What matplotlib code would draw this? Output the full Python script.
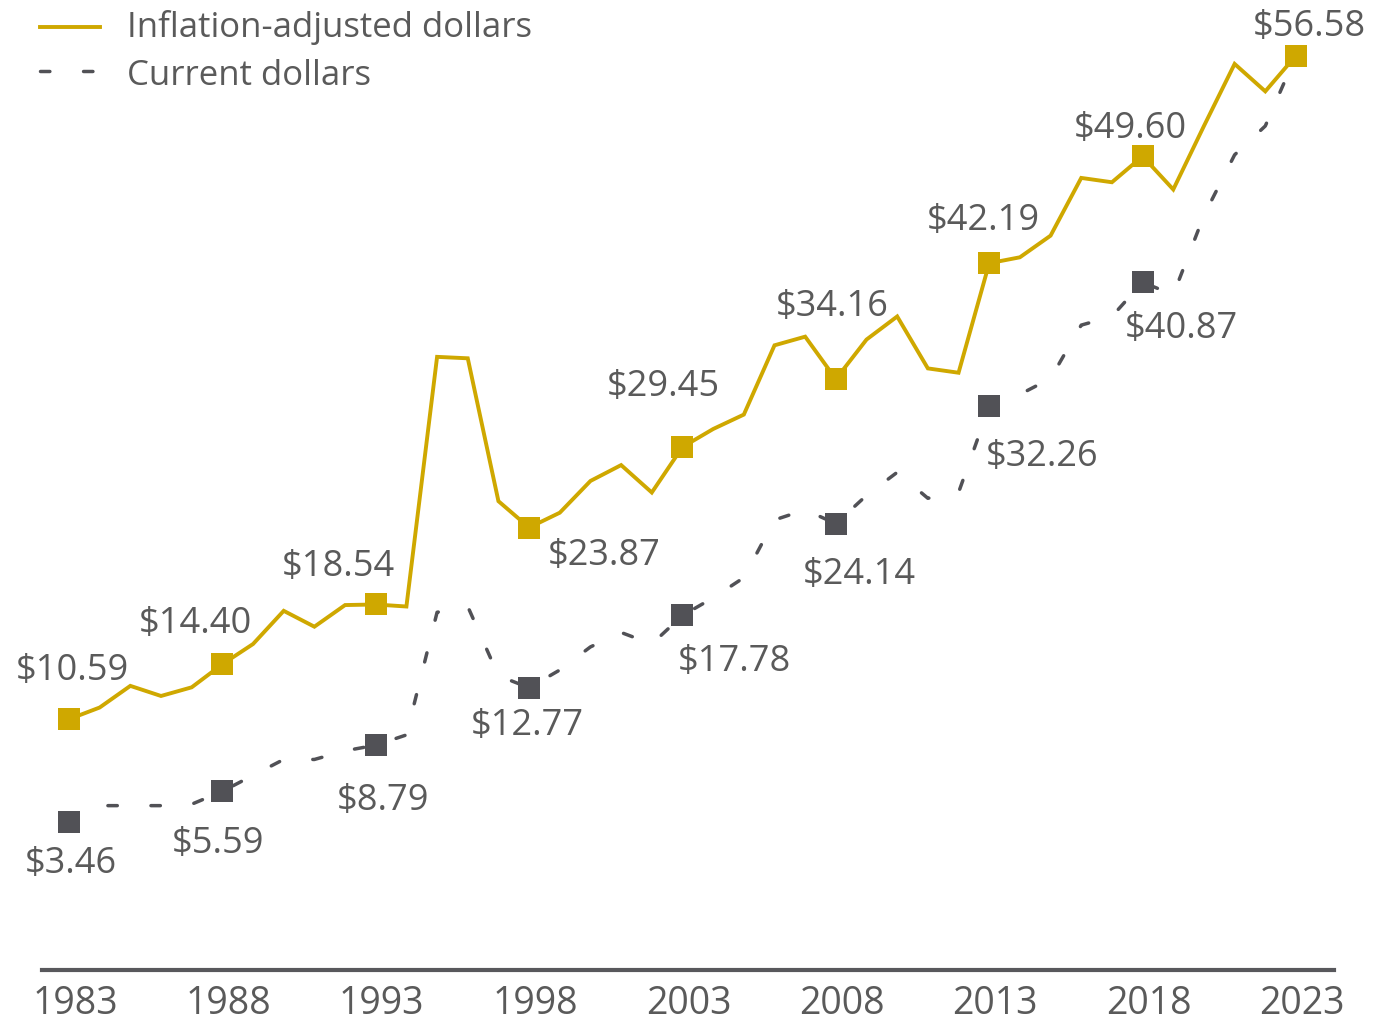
import matplotlib
matplotlib.use('Agg')
import matplotlib.pyplot as plt
from matplotlib.lines import Line2D
from matplotlib.transforms import ScaledTranslation

years = list(range(1983, 2024))
inflation_adjusted = [10.59, 11.4, 12.9, 12.2, 12.8, 14.40, 15.8, 18.1, 17.0, 18.5,
                      18.54, 18.4, 35.7, 35.6, 25.7, 23.87, 24.9, 27.1, 28.2, 26.3,
                      29.45, 30.7, 31.7, 36.5, 37.1, 34.16, 36.9, 38.5, 34.9, 34.6,
                      42.19, 42.6, 44.1, 48.1, 47.8, 49.60, 47.3, 51.7, 56.0, 54.1,
                      56.58]
current = [3.46, 4.6, 4.6, 4.6, 4.7, 5.59, 6.7, 7.8, 7.8, 8.4,
           8.79, 9.5, 18.0, 18.4, 13.6, 12.77, 14.0, 15.6, 16.6, 15.8,
           17.78, 19.0, 20.4, 24.4, 25.1, 24.14, 26.1, 27.7, 25.9, 26.3,
           32.26, 33.1, 34.2, 37.9, 38.5, 40.87, 40.0, 45.5, 49.7, 51.7,
           56.58]
tick_years = [1983, 1988, 1993, 1998, 2003, 2008, 2013, 2018, 2023]
series_names = ['Inflation-adjusted dollars', 'Current dollars']

GOLD = '#CFA800'
DARK = '#515156'
TEXT = '#5a5a5a'
FONT = ['Open Sans', 'DejaVu Sans']

# label offsets in pixels (dx, dy) from the marker to the label baseline centre
gold_offsets = [(3, 39), (-27, 31), (-37, 28), (75, -37), (-19, 51),
                (-4, 63), (-6, 33), (-12, 18), (13, 20)]
current_offsets = [(2, -51), (-4, -62), (7, -65), (-2, -47), (52, -56),
                   (23, -60), (53, -60), (39, -56)]

W, H = 1374, 1021
fig = plt.figure(figsize=(W / 100, H / 100), dpi=100)
ax = fig.add_axes([42 / W, 51 / H, 1292 / W, 970 / H])
ax.set_xlim(1982.12, 2024.24)
ax.set_ylim(-6.79, 60.43)

marks = [years.index(y) for y in tick_years]

ax.plot(years, current, color=DARK, lw=2.5, linestyle=(0, (2.7, 9.7)),
        dash_capstyle='round', zorder=2, clip_on=False)
ax.plot([years[i] for i in marks], [current[i] for i in marks], 's', color=DARK,
        ms=16.5, mew=0, zorder=3, clip_on=False)
ax.plot(years, inflation_adjusted, color=GOLD, lw=2.8, zorder=4, clip_on=False,
        solid_joinstyle='miter')
ax.plot([years[i] for i in marks], [inflation_adjusted[i] for i in marks], 's',
        color=GOLD, ms=16.5, mew=0, zorder=5, clip_on=False)

for i, (dx, dy) in zip(marks, gold_offsets):
    ax.annotate(f'${inflation_adjusted[i]:.2f}', (years[i], inflation_adjusted[i]),
                xytext=(dx, dy), textcoords='offset pixels', ha='center',
                va='baseline', fontsize=26, color=TEXT, family=FONT)
for i, (dx, dy) in zip(marks[:-1], current_offsets):
    ax.annotate(f'${current[i]:.2f}', (years[i], current[i]),
                xytext=(dx, dy), textcoords='offset pixels', ha='center',
                va='baseline', fontsize=26, color=TEXT, family=FONT)

# axis: only the bottom line
for side in ['top', 'right', 'left']:
    ax.spines[side].set_visible(False)
ax.spines['bottom'].set_color('#58585c')
ax.spines['bottom'].set_linewidth(3)
ax.set_yticks([])
ax.set_xticks(tick_years)
ax.set_xticklabels([str(y) for y in tick_years], family=FONT, fontsize=27,
                   color=TEXT)
ax.tick_params(axis='x', length=0, pad=11)
shift = ScaledTranslation(6 / 100, 0, fig.dpi_scale_trans)
for lbl in ax.get_xticklabels():
    lbl.set_transform(lbl.get_transform() + shift)

# legend drawn by hand
fig.add_artist(Line2D([40 / W, 100 / W], [1 - 27 / H, 1 - 27 / H], color=GOLD,
                      lw=2.8, transform=fig.transFigure))
fig.add_artist(Line2D([40 / W, 100 / W], [1 - 71 / H, 1 - 71 / H], color=DARK,
                      lw=2.5, linestyle=(0, (2.7, 9.7)), dash_capstyle='round',
                      transform=fig.transFigure))
fig.text(127 / W, 1 - 37 / H, series_names[0], fontsize=25, color=TEXT,
         family=FONT, va='baseline')
fig.text(127 / W, 1 - 85 / H, series_names[1], fontsize=25, color=TEXT,
         family=FONT, va='baseline')

fig.savefig('out.png', dpi=100)
